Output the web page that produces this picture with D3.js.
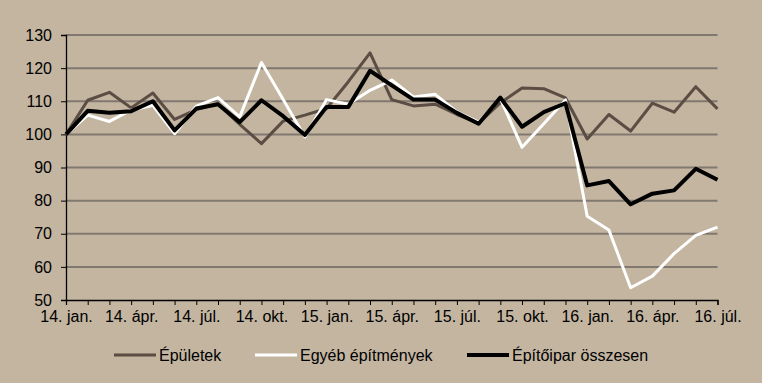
<!DOCTYPE html>
<html>
<head>
<meta charset="utf-8">
<script src="https://cdn.jsdelivr.net/npm/d3@7"></script>
<style>
  html, body { margin: 0; padding: 0; background: #c3b5a0; }
  svg { display: block; }
  text { font-family: "Liberation Sans", Arial, sans-serif; fill: #000; }
</style>
</head>
<body>
<svg id="chart" width="762" height="383"></svg>
<script>
const categories = [
  "14. jan.", "14. febr.", "14. márc.", "14. ápr.", "14. máj.", "14. jún.",
  "14. júl.", "14. aug.", "14. szept.", "14. okt.", "14. nov.", "14. dec.",
  "15. jan.", "15. febr.", "15. márc.", "15. ápr.", "15. máj.", "15. jún.",
  "15. júl.", "15. aug.", "15. szept.", "15. okt.", "15. nov.", "15. dec.",
  "16. jan.", "16. febr.", "16. márc.", "16. ápr.", "16. máj.", "16. jún.",
  "16. júl."
];
const epuletek = [100, 110.3, 112.7, 108, 112.5, 104.5, 107.5, 109.2, 103, 97.2,
  104, 105.8, 107.8, 115.9, 124.6, 110.5, 108.6, 109.1, 106, 103.4,
  109.5, 114, 113.8, 111, 98.6, 106, 101, 109.4, 106.7, 114.4, 107.7];
const egyeb = [100, 105.8, 103.9, 107.3, 108.8, 100.2, 108.5, 111.1, 105.3, 121.7,
  110.5, 99.2, 110.5, 109.1, 113.3, 116.4, 111.3, 112.1, 106.8, 103.7,
  110.8, 96.1, 103.2, 110.4, 75.3, 71.1, 53.7, 57.2, 64, 69.5, 72];
const osszesen = [100, 107.1, 106.5, 107, 110, 101.2, 107.8, 109.1, 103.7, 110.3,
  105.5, 99.8, 108.3, 108.3, 119.2, 114.8, 110.5, 110.5, 106.5, 103.2,
  111.1, 102.3, 106.7, 109.4, 84.6, 85.9, 78.9, 82.1, 83.1, 89.6, 86.3];
const seriesNames = ["Épületek", "Egyéb építmények", "Építőipar összesen"];
const yTicks = [50, 60, 70, 80, 90, 100, 110, 120, 130];

const series = [
  { name: seriesNames[0], values: epuletek, color: "#5b4d43", width: 3 },
  { name: seriesNames[1], values: egyeb, color: "#ffffff", width: 3 },
  { name: seriesNames[2], values: osszesen, color: "#000000", width: 4 }
];

const svg = d3.select("#chart");
const mLeft = 66, mRight = 717.5, mTop = 35, mBottom = 300;

const x = d3.scalePoint().domain(categories).range([mLeft, mRight]);
const y = d3.scaleLinear().domain([50, 130]).range([mBottom, mTop]);

// gridlines
svg.append("g").selectAll("line")
  .data(yTicks.filter(d => d > 50))
  .join("line")
  .attr("x1", mLeft).attr("x2", mRight)
  .attr("y1", d => y(d)).attr("y2", d => y(d))
  .attr("stroke", "#817870").attr("stroke-width", 2);

// y axis
const yAxis = svg.append("g")
  .attr("transform", `translate(${mLeft},0)`)
  .call(d3.axisLeft(y).tickValues(yTicks).tickSize(5).tickPadding(9));
yAxis.select(".domain").attr("stroke", "#000").attr("stroke-width", 1.3);
yAxis.selectAll(".tick line").attr("stroke", "#000");
yAxis.selectAll("text").style("font-size", "16px").attr("fill", "#000");

// x axis
const xAxis = svg.append("g")
  .attr("transform", `translate(0,${mBottom})`)
  .call(d3.axisBottom(x).tickSize(5).tickPadding(6)
    .tickFormat((d, i) => i % 3 === 0 ? d : ""));
xAxis.select(".domain").attr("stroke", "#000").attr("stroke-width", 1.3);
xAxis.selectAll(".tick line").attr("stroke", "#000");
xAxis.selectAll("text").style("font-size", "16px").attr("fill", "#000");

// lines
const line = d3.line()
  .x((d, i) => x(categories[i]))
  .y(d => y(d));

svg.append("g").selectAll("path")
  .data(series)
  .join("path")
  .attr("d", d => line(d.values))
  .attr("fill", "none")
  .attr("stroke", d => d.color)
  .attr("stroke-width", d => d.width)
  .attr("stroke-linejoin", "round");

// legend
const legendPos = [114, 255, 467];
const legend = svg.append("g").selectAll("g")
  .data(series)
  .join("g")
  .attr("transform", (d, i) => `translate(${legendPos[i]},355)`);
legend.append("line")
  .attr("x1", 0).attr("x2", 42)
  .attr("y1", 0).attr("y2", 0)
  .attr("stroke", d => d.color)
  .attr("stroke-width", d => d.width);
legend.append("text")
  .attr("x", 45).attr("y", 6)
  .style("font-size", "16px")
  .text(d => d.name);
</script>
</body>
</html>
